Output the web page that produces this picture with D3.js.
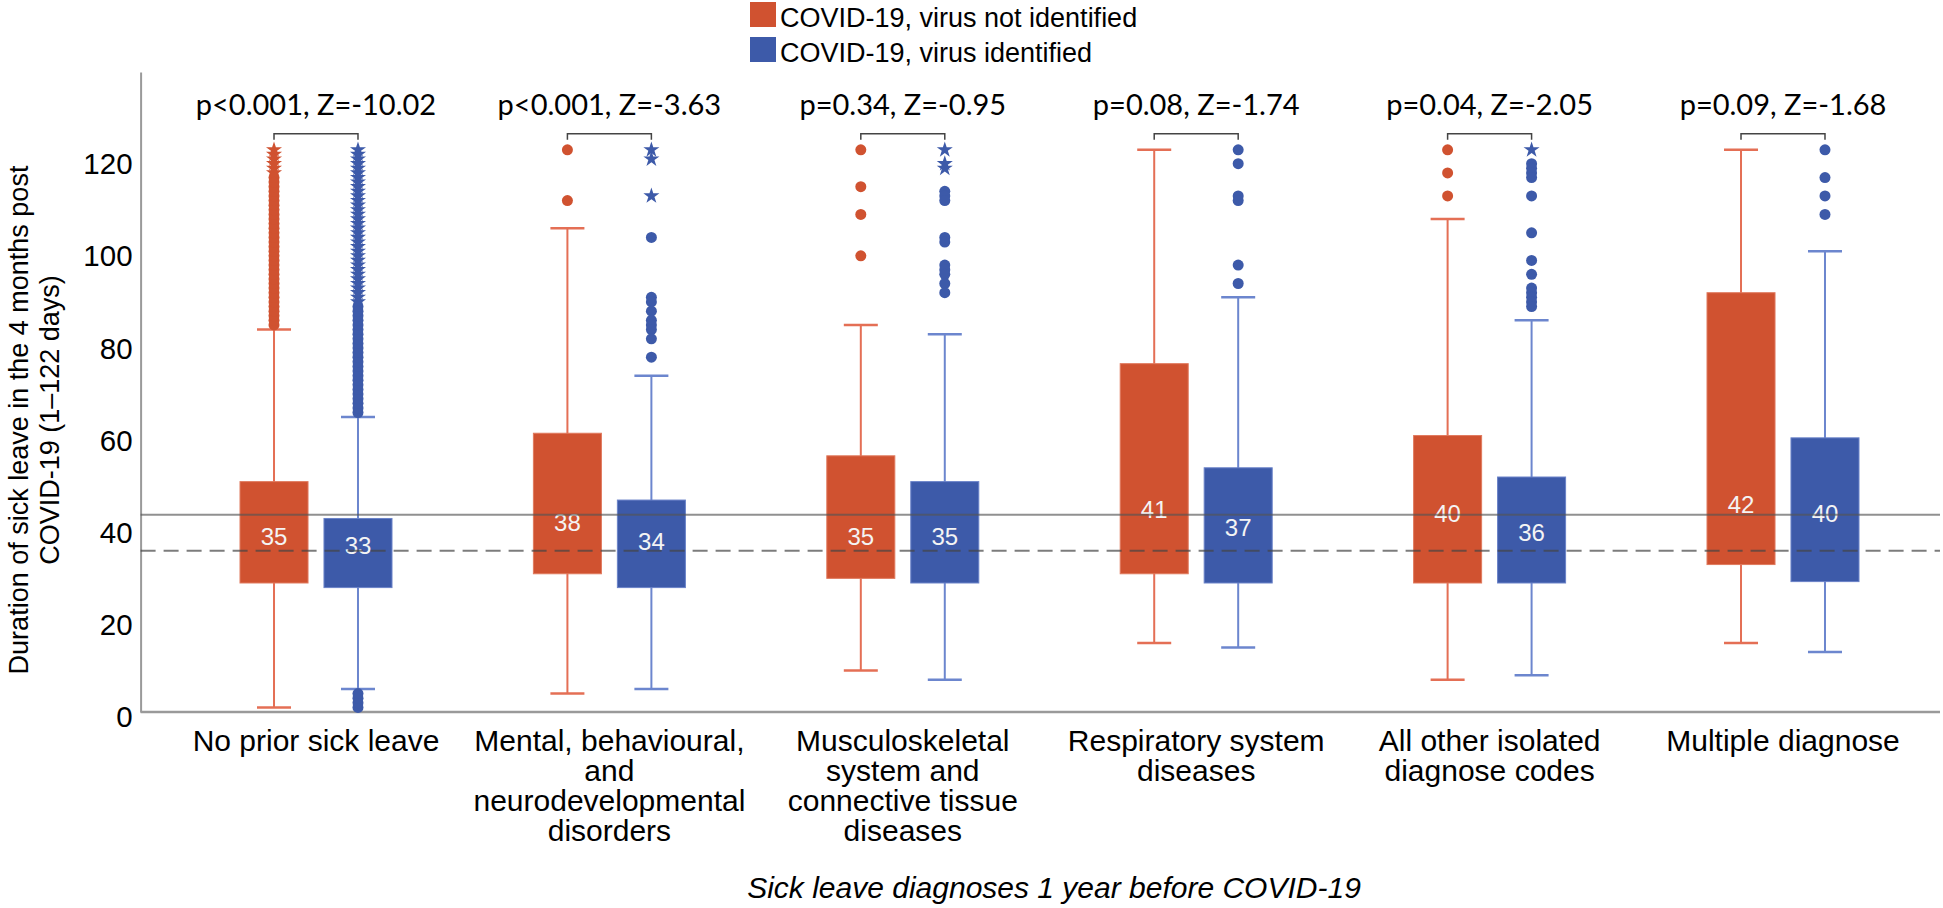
<!DOCTYPE html>
<html>
<head>
<meta charset="utf-8">
<script src="https://cdn.jsdelivr.net/npm/d3@7"></script>
<style>
  body { margin: 0; background: #fff; }
  text { font-family: "Liberation Sans", Arial, sans-serif; fill: #000; }
  .ptext { font-family: Lato, "Liberation Sans", sans-serif; }
</style>
</head>
<body>
<div class="chart"></div>
<script>
// categories and series
var categories = ["No prior sick leave", "Mental", "Musculoskeletal", "Respiratory", "All other", "Multiple"];
var categoryLines = [
  ["No prior sick leave"],
  ["Mental, behavioural,", "and", "neurodevelopmental", "disorders"],
  ["Musculoskeletal", "system and", "connective tissue", "diseases"],
  ["Respiratory system", "diseases"],
  ["All other isolated", "diagnose codes"],
  ["Multiple diagnose"]
];
var seriesNames = ["COVID-19, virus not identified", "COVID-19, virus identified"];
var testLabels = ["p<0.001, Z=-10.02", "p<0.001, Z=-3.63", "p=0.34, Z=-0.95", "p=0.08, Z=-1.74", "p=0.04, Z=-2.05", "p=0.09, Z=-1.68"];
var yTicks = [0, 20, 40, 60, 80, 100, 120];

// virus not identified
var notIdLow    = [1, 4, 9, 15, 7, 15];
var notIdQ1     = [28, 30, 29, 30, 28, 32];
var notIdMedian = [35, 38, 35, 41, 40, 42];
var notIdQ3     = [50, 60.5, 55.6, 75.6, 60, 91];
var notIdHigh   = [83, 105, 84, 122, 107, 122];
var notIdOutliers = [
  [84, 85, 86, 87, 88, 89, 90, 91, 92, 93, 94, 95, 96, 97, 98, 99, 100, 101, 102, 103, 104, 105, 106, 107, 108, 109, 110, 111, 112, 113, 114, 115, 116],
  [122, 111],
  [122, 114, 108, 99],
  [],
  [122, 117, 112],
  []
];
var notIdExtremes = [[117, 118, 119, 120, 121, 122], [], [], [], [], []];

// virus identified
var idLow    = [5, 5, 7, 14, 8, 13];
var idQ1     = [27, 27, 28, 28, 28, 28.3];
var idMedian = [33, 34, 35, 37, 36, 40];
var idQ3     = [42, 46, 50, 53, 51, 59.5];
var idHigh   = [64, 73, 82, 90, 85, 100];
var idOutliers = [
  [1, 2, 3, 4, 65, 66, 67, 68, 69, 70, 71, 72, 73, 74, 75, 76, 77, 78, 79, 80, 81, 82, 83, 84, 85, 86, 87, 88],
  [103, 90, 89, 87, 85, 84, 83, 81, 77],
  [113, 112, 111, 103, 102, 97, 96, 95, 93, 91],
  [122, 119, 112, 111, 97, 93],
  [119, 118, 117, 116, 112, 104, 98, 95, 92, 91, 90, 89, 88],
  [122, 116, 112, 108]
];
var idExtremes = [
  [89, 90, 91, 92, 93, 94, 95, 96, 97, 98, 99, 100, 101, 102, 103, 104, 105, 106, 107, 108, 109, 110, 111, 112, 113, 114, 115, 116, 117, 118, 119, 120, 121, 122],
  [122, 120, 112],
  [122, 119, 118],
  [],
  [122],
  []
];

// overall reference lines
var overallMean = 42.8;
var overallMedian = 35;

var colors = ["#D05230", "#3D5AA9"];
var whiskerColors = ["#E46F55", "#6C86CE"];
var edgeColors = ["#E07A5E", "#6A82C8"];

var width = 1943, height = 908;

var svg = d3.select(`.chart`)
  .append(`svg`)
  .attr(`width`, width)
  .attr(`height`, height);

var y = d3.scaleLinear().domain([0, 138.9]).range([712, 72]);
var x = d3.scaleBand().domain(categories).range([169.3, 1929.7]);
var xs = d3.scaleBand().domain(seriesNames).range([-76, 76]).paddingInner(0.19);

var series = [
  {name: seriesNames[0], low: notIdLow, q1: notIdQ1, med: notIdMedian, q3: notIdQ3, high: notIdHigh, out: notIdOutliers, ext: notIdExtremes},
  {name: seriesNames[1], low: idLow, q1: idQ1, med: idMedian, q3: idQ3, high: idHigh, out: idOutliers, ext: idExtremes}
];

var boxes = [];
series.forEach((s, si) => {
  categories.forEach((c, ci) => {
    boxes.push({si: si, cat: c, ci: ci, low: s.low[ci], q1: s.q1[ci], med: s.med[ci], q3: s.q3[ci], high: s.high[ci], out: s.out[ci], ext: s.ext[ci], name: s.name});
  });
});
var cx = d => x(d.cat) + x.bandwidth() / 2 + xs(d.name) + xs.bandwidth() / 2;
var bw = xs.bandwidth();
var capW = 34;

// y axis
var yAxis = d3.axisLeft(y).tickValues(yTicks).tickSize(0).tickPadding(8);
var yg = svg.append(`g`).attr(`transform`, `translate(140.6,0)`).call(yAxis);
yg.select(`.domain`).attr(`stroke`, `#9a9a9a`).attr(`stroke-width`, 2);
yg.selectAll(`text`).style(`font-size`, `29.5px`).attr(`dy`, `0.5em`)
  .style(`font-family`, `"Liberation Sans", Arial, sans-serif`).attr(`fill`, `#000`);

// x axis line
svg.append(`line`)
  .attr(`x1`, 140.6).attr(`x2`, 1940)
  .attr(`y1`, y(0)).attr(`y2`, y(0))
  .attr(`stroke`, `#9a9a9a`).attr(`stroke-width`, 2.5);

// category labels
var xAxis = d3.axisBottom(x).tickSize(0).tickFormat(``);
var xg = svg.append(`g`).attr(`transform`, `translate(0,${y(0)})`).call(xAxis);
xg.select(`.domain`).remove();
xg.selectAll(`.tick`).each(function(d, i) {
  var t = d3.select(this).append(`text`)
    .attr(`text-anchor`, `middle`)
    .style(`font-size`, `30px`)
    .attr(`fill`, `#000`);
  categoryLines[i].forEach((line, li) => {
    t.append(`tspan`).attr(`x`, 0).attr(`y`, 39 + li * 30).text(line);
  });
});

// whiskers
var g = svg.selectAll(`.box`)
  .data(boxes)
  .enter()
  .append(`g`)
  .attr(`class`, `box`);

g.append(`line`)
  .attr(`x1`, cx).attr(`x2`, cx)
  .attr(`y1`, d => y(d.low)).attr(`y2`, d => y(d.high))
  .attr(`stroke`, d => whiskerColors[d.si]).attr(`stroke-width`, 2);
g.append(`line`)
  .attr(`x1`, d => cx(d) - capW / 2).attr(`x2`, d => cx(d) + capW / 2)
  .attr(`y1`, d => y(d.low)).attr(`y2`, d => y(d.low))
  .attr(`stroke`, d => whiskerColors[d.si]).attr(`stroke-width`, 2.5);
g.append(`line`)
  .attr(`x1`, d => cx(d) - capW / 2).attr(`x2`, d => cx(d) + capW / 2)
  .attr(`y1`, d => y(d.high)).attr(`y2`, d => y(d.high))
  .attr(`stroke`, d => whiskerColors[d.si]).attr(`stroke-width`, 2.5);

// boxes
g.append(`rect`)
  .attr(`x`, d => cx(d) - bw / 2)
  .attr(`width`, bw)
  .attr(`y`, d => y(d.q3))
  .attr(`height`, d => y(d.q1) - y(d.q3))
  .attr(`fill`, d => colors[d.si])
  .attr(`stroke`, d => edgeColors[d.si])
  .attr(`stroke-width`, 1);

// outliers
g.each(function(d) {
  var sel = d3.select(this);
  sel.selectAll(`circle`)
    .data(d.out)
    .enter()
    .append(`circle`)
    .attr(`cx`, cx(d))
    .attr(`cy`, v => y(v))
    .attr(`r`, 5.5)
    .attr(`fill`, colors[d.si]);
  sel.selectAll(`path.star`)
    .data(d.ext)
    .enter()
    .append(`path`)
    .attr(`class`, `star`)
    .attr(`transform`, v => `translate(${cx(d)},${y(v)})`)
    .attr(`d`, d3.symbol(d3.symbolStar, 80))
    .attr(`fill`, colors[d.si]);
});

// median labels
g.append(`text`)
  .attr(`x`, cx)
  .attr(`y`, d => y(d.med) - 5.5)
  .attr(`text-anchor`, `middle`)
  .style(`font-size`, `24px`)
  .style(`fill`, `#f4f4f4`)
  .text(d => d.med);

// reference lines over the boxes
svg.append(`line`)
  .attr(`x1`, 140.6).attr(`x2`, 1940)
  .attr(`y1`, y(overallMean)).attr(`y2`, y(overallMean))
  .attr(`stroke`, `#555`).attr(`stroke-opacity`, 0.65).attr(`stroke-width`, 2);
svg.append(`line`)
  .attr(`x1`, 140.6).attr(`x2`, 1940)
  .attr(`y1`, y(overallMedian)).attr(`y2`, y(overallMedian))
  .attr(`stroke`, `#444`).attr(`stroke-opacity`, 0.7).attr(`stroke-width`, 2)
  .attr(`stroke-dasharray`, `15,8`);

// brackets and test labels
var bracketY = y(125.5);
categories.forEach((c, i) => {
  var x0 = x(c) + x.bandwidth() / 2 + xs(seriesNames[0]) + bw / 2;
  var x1 = x(c) + x.bandwidth() / 2 + xs(seriesNames[1]) + bw / 2;
  svg.append(`path`)
    .attr(`d`, `M${x0},${bracketY + 6}V${bracketY}H${x1}V${bracketY + 6}`)
    .attr(`fill`, `none`).attr(`stroke`, `#444`).attr(`stroke-width`, 1.5);
  svg.append(`text`)
    .attr(`class`, `ptext`)
    .attr(`x`, (x0 + x1) / 2)
    .attr(`y`, bracketY - 19)
    .attr(`text-anchor`, `middle`)
    .style(`font-size`, `29px`)
    .text(testLabels[i]);
});

// legend
var legend = svg.selectAll(`.legend`)
  .data(seriesNames)
  .enter()
  .append(`g`)
  .attr(`class`, `legend`)
  .attr(`transform`, (d, i) => `translate(750,${2 + i * 35})`);
legend.append(`rect`)
  .attr(`width`, 26).attr(`height`, 25)
  .attr(`fill`, (d, i) => colors[i]);
legend.append(`text`)
  .attr(`x`, 30).attr(`y`, 25)
  .style(`font-size`, `27px`)
  .text(d => d);

// axis titles
var yTitle = svg.append(`text`)
  .attr(`transform`, `translate(0,420) rotate(-90)`)
  .attr(`text-anchor`, `middle`)
  .style(`font-size`, `27px`);
yTitle.append(`tspan`).attr(`x`, 0).attr(`y`, 28).text(`Duration of sick leave in the 4 months post`);
yTitle.append(`tspan`).attr(`x`, 0).attr(`y`, 59).text(`COVID-19 (1\u2013122 days)`);

svg.append(`text`)
  .attr(`x`, 1054)
  .attr(`y`, 898)
  .attr(`text-anchor`, `middle`)
  .style(`font-size`, `30px`)
  .style(`font-style`, `italic`)
  .text(`Sick leave diagnoses 1 year before COVID-19`);
</script>
</body>
</html>
